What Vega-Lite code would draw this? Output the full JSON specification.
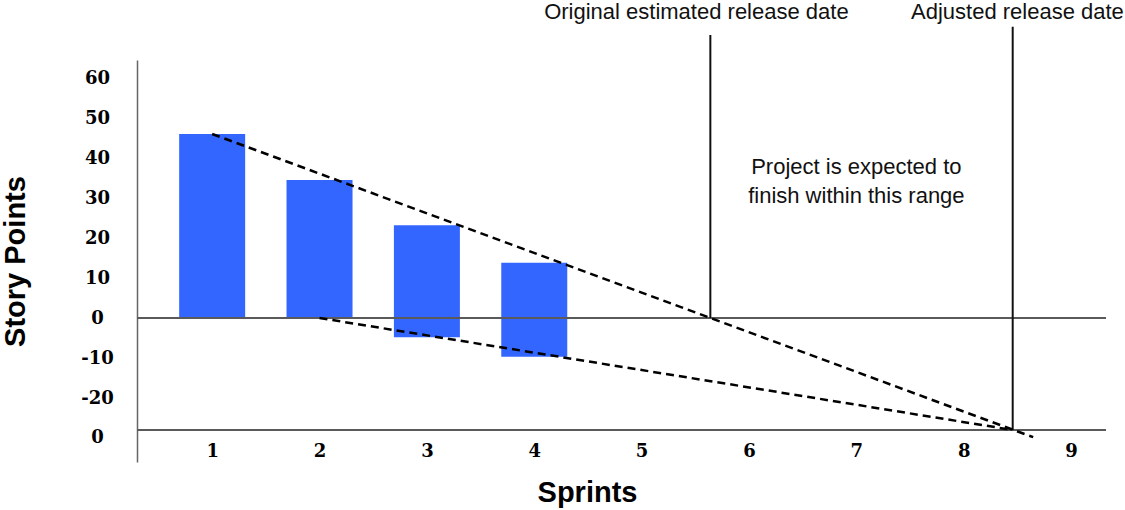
{
  "$schema": "https://vega.github.io/schema/vega-lite/v6.json",
  "width": 969,
  "height": 402,
  "autosize": {"type": "none"},
  "padding": {"left": 137, "top": 60, "right": 19, "bottom": 48},
  "background": "white",
  "config": {
    "view": {"stroke": null},
    "axis": {"grid": false, "ticks": false, "tickSize": 0}
  },
  "datasets": {
    "sprints": [
      {"sprint": 1, "points": 46, "points2": 0},
      {"sprint": 2, "points": 34.5, "points2": 0},
      {"sprint": 3, "points": 23.2, "points2": -4.8},
      {"sprint": 4, "points": 13.8, "points2": -9.7}
    ],
    "baselines": [{"points": 0}, {"points": -28}],
    "releases": [
      {"sprint": 5.64, "points": 70.75, "points2": 0},
      {"sprint": 8.456, "points": 72.8, "points2": -28}
    ],
    "trend": [
      {"line": "upper", "sprint": 1, "points": 46},
      {"line": "upper", "sprint": 8.647, "points": -29.8},
      {"line": "lower", "sprint": 2, "points": 0},
      {"line": "lower", "sprint": 8.456, "points": -28}
    ],
    "notes": [
      {"sprint": 5.51, "points": 74.75, "text": "Original estimated release date"},
      {"sprint": 8.5, "points": 74.75, "text": "Adjusted release date"}
    ],
    "range": [
      {"sprint": 7, "points": 36, "text": ["Project is expected to", "finish within this range"]}
    ]
  },
  "layer": [
    {
      "data": {"name": "sprints"},
      "mark": {"type": "bar", "size": 66, "color": "#3366ff"},
      "encoding": {
        "x": {
          "field": "sprint", "type": "quantitative",
          "scale": {"domain": [0.3, 9.325], "nice": false, "zero": false, "padding": 0},
          "axis": {
            "values": [1, 2, 3, 4, 5, 6, 7, 8, 9],
            "format": "d",
            "domain": false,
            "labelFont": "DejaVu Serif", "labelFontWeight": "bold", "labelFontSize": 18,
            "labelColor": "#000", "labelBaseline": "middle", "labelPadding": -11,
            "title": "Sprints", "titleFont": "Liberation Sans", "titleFontWeight": "bold",
            "titleFontSize": 29, "titleColor": "#000", "titleX": 450, "titleY": 30,
            "titleBaseline": "middle", "titleAlign": "center"
          }
        },
        "y": {
          "field": "points", "type": "quantitative",
          "scale": {"domain": [-36, 64.5], "nice": false, "zero": false},
          "axis": {
            "values": [60, 50, 40, 30, 20, 10, 0, -10, -20, -29.75],
            "labelExpr": "datum.value < -25 ? '0' : '' + datum.value",
            "domainColor": "#666", "domainWidth": 1.5,
            "labelFont": "DejaVu Serif", "labelFontWeight": "bold", "labelFontSize": 18,
            "labelColor": "#000", "labelAlign": "center", "labelBaseline": "middle", "labelPadding": 40,
            "title": "Story Points", "titleFont": "Liberation Sans", "titleFontWeight": "bold",
            "titleFontSize": 29, "titleColor": "#000", "titleAngle": -90, "titleX": -122, "titleY": 201,
            "titleBaseline": "middle", "titleAlign": "center"
          }
        },
        "y2": {"field": "points2"}
      }
    },
    {
      "data": {"name": "baselines"},
      "mark": {"type": "rule", "color": "#5a5a5a", "strokeWidth": 2},
      "encoding": {
        "y": {"field": "points", "type": "quantitative", "scale": {"domain": [-36, 64.5], "nice": false, "zero": false}}
      }
    },
    {
      "data": {"name": "releases"},
      "mark": {"type": "rule", "color": "#111", "strokeWidth": 2},
      "encoding": {
        "x": {"field": "sprint", "type": "quantitative", "scale": {"domain": [0.3, 9.325], "nice": false, "zero": false, "padding": 0}},
        "y": {"field": "points", "type": "quantitative", "scale": {"domain": [-36, 64.5], "nice": false, "zero": false}},
        "y2": {"field": "points2"}
      }
    },
    {
      "data": {"name": "trend"},
      "mark": {"type": "line", "color": "#000", "strokeWidth": 2.5, "strokeDash": [8, 5]},
      "encoding": {
        "x": {"field": "sprint", "type": "quantitative", "scale": {"domain": [0.3, 9.325], "nice": false, "zero": false, "padding": 0}},
        "y": {"field": "points", "type": "quantitative", "scale": {"domain": [-36, 64.5], "nice": false, "zero": false}},
        "detail": {"field": "line"}
      }
    },
    {
      "data": {"name": "notes"},
      "mark": {"type": "text", "font": "Liberation Sans", "fontSize": 22, "color": "#111", "align": "center", "baseline": "alphabetic"},
      "encoding": {
        "x": {"field": "sprint", "type": "quantitative", "scale": {"domain": [0.3, 9.325], "nice": false, "zero": false, "padding": 0}},
        "y": {"field": "points", "type": "quantitative", "scale": {"domain": [-36, 64.5], "nice": false, "zero": false}},
        "text": {"field": "text"}
      }
    },
    {
      "data": {"name": "range"},
      "mark": {"type": "text", "font": "Liberation Sans", "fontSize": 22, "color": "#111", "align": "center", "baseline": "alphabetic", "lineHeight": 28.5},
      "encoding": {
        "x": {"field": "sprint", "type": "quantitative", "scale": {"domain": [0.3, 9.325], "nice": false, "zero": false, "padding": 0}},
        "y": {"field": "points", "type": "quantitative", "scale": {"domain": [-36, 64.5], "nice": false, "zero": false}},
        "text": {"field": "text"}
      }
    }
  ]
}
